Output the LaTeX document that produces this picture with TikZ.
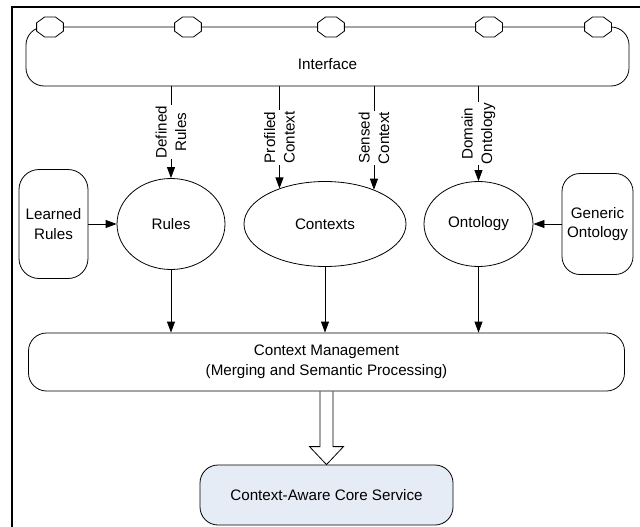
\documentclass[tikz,border=0pt]{standalone}
\usepackage{fontspec}
\setmainfont{Liberation Sans}
\usetikzlibrary{shapes.geometric,arrows.meta}
\definecolor{azulnucleo}{RGB}{230,236,246}

\begin{document}
\begin{tikzpicture}[x=1pt,y=-1pt,
        font=\fontsize{15.2}{19.5}\selectfont,
        caja/.style={draw,rounded corners=18pt,align=center,inner sep=0pt,line width=0.8pt},
        elipse/.style={draw,ellipse,align=center,inner sep=0pt,line width=0.8pt},
        octa/.style={draw,fill=white,regular polygon,regular polygon sides=8,
            minimum size=29pt,yscale=0.74,inner sep=0pt,line width=0.8pt},
        flecha/.style={-{Triangle[length=11pt,width=8pt]},line width=0.8pt},
        rotulo/.style={rotate=90,align=center,fill=white,inner sep=1pt}]
        \useasboundingbox (0,0) rectangle (640,527);

        % Paso 1: Dibuja el marco exterior
        \draw[line width=1.2pt] (12,527) -- (12,7) -- (640,7);

        % Paso 2: Caja de la interfaz y sus octagonos
        \node[caja,minimum width=603pt,minimum height=59pt,
            label={[yshift=-7.5pt]center:Interface}] (Inter) at (327.5,56.5) {};
        \foreach \x [count=\i] in {50,188,331,489,598}
            \node[octa] (O\i) at (\x,27) {};

        % Paso 3: Elipses y cajas laterales
        \node[elipse,minimum width=108pt,minimum height=91pt] (Rules) at (171,224) {Rules};
        \node[elipse,minimum width=162pt,minimum height=85pt] (Ctx) at (325,224) {Contexts};
        \node[elipse,minimum width=109pt,minimum height=85pt] (Onto) at (478.5,224) {Ontology};
        \node[caja,rounded corners=20pt,minimum width=69pt,minimum height=109pt] (Learn) at (53.5,224) {Learned\\Rules};
        \node[caja,minimum width=71pt,minimum height=101pt] (Gen) at (597.5,224) {Generic\\Ontology};

        % Paso 4: Gestion del contexto y servicio central
        \node[caja,minimum width=596pt,minimum height=58pt] (Mgmt) at (326.5,362)
            {Context Management\\(Merging and Semantic Processing)};
        \node[caja,fill=azulnucleo,minimum width=253pt,minimum height=60pt] (Core) at (326.5,495)
            {Context-Aware Core Service};

        % Paso 5: Flechas desde la interfaz
        \draw[flecha] (Rules.north |- Inter.south) -- node[rotulo]{Defined\\Rules} (Rules.north);
        \draw[flecha] (Ctx.142 |- Inter.south) -- node[rotulo]{Profiled\\Context} (Ctx.142);
        \draw[flecha] (Ctx.35 |- Inter.south) -- node[rotulo]{Sensed\\Context} (Ctx.35);
        \draw[flecha] (Onto.north |- Inter.south) -- node[rotulo]{Domain\\Ontology} (Onto.north);

        % Paso 6: Flechas laterales y hacia la gestion
        \draw[flecha] (Learn) -- (Rules);
        \draw[flecha] (Gen) -- (Onto);
        \draw[flecha] (Rules.south) -- (Rules.south |- Mgmt.north);
        \draw[flecha] (Ctx.south) -- (Ctx.south |- Mgmt.north);
        \draw[flecha] (Onto.south) -- (Onto.south |- Mgmt.north);

        % Paso 7: Flecha hueca hacia el servicio central
        \draw[line width=0.8pt] ([xshift=-6.5pt]Mgmt.south) -- ([xshift=-6.5pt,yshift=18pt]Core.north)
            -- ([xshift=-17pt,yshift=18pt]Core.north) -- (Core.north)
            -- ([xshift=17pt,yshift=18pt]Core.north) -- ([xshift=6.5pt,yshift=18pt]Core.north)
            -- ([xshift=6.5pt]Mgmt.south);
\end{tikzpicture}
\end{document}
